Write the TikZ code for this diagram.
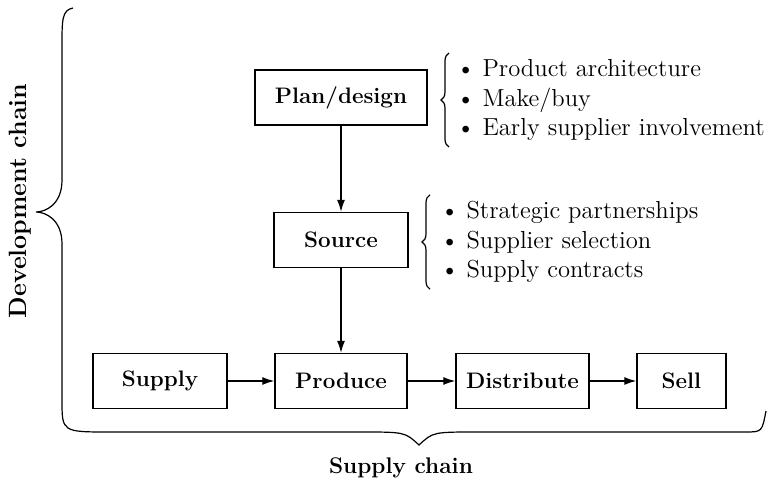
\documentclass[tikz,border=0pt]{standalone}
\usepackage{tikz}
\usetikzlibrary{arrows.meta,positioning,decorations.pathreplacing,calc}
\tikzset{
stagebox/.style = {draw, line width=0.7pt, minimum height=27.5pt,
                   inner sep=0pt, font=\fontsize{11.2}{13}\selectfont\bfseries},
flow/.style = {-{Latex[length=6pt,width=4pt]}, line width=0.6pt},
bulletlist/.style = {align=left, inner sep=0pt, anchor=west,
                     font=\fontsize{12.3}{14.8}\selectfont},
listbrace/.style = {decorate, decoration={brace, amplitude=4pt}, line width=0.6pt}}
\newcommand{\itm}{\textbullet\hspace{0.3em}}

\begin{document}
\begin{tikzpicture}[x=0.5pt,y=-0.5pt]
  \useasboundingbox (0,0) rectangle (768,487);

  % development stages
  \node[stagebox, minimum width=86pt] (plan) at (341,97.5) {Plan/design};
  \node[stagebox, minimum width=67pt] (source) at (341,240) {Source};

  % supply chain stages
  \node[stagebox, minimum width=67pt] (supply) at (160,381) {Supply};
  \node[stagebox, minimum width=66pt] (produce) at (341,381) {Produce};
  \node[stagebox, minimum width=66.5pt] (distribute) at (522.5,381) {Distribute};
  \node[stagebox, minimum width=44.5pt] (sell) at (681.5,381) {Sell};

  \draw[flow] (plan) -- (source);
  \draw[flow] (source) -- (produce);
  \draw[flow] (supply) -- (produce);
  \draw[flow] (produce) -- (distribute);
  \draw[flow] (distribute) -- (sell);

  % decisions
  \node[bulletlist] (planlist) at (456,100) {\itm Product architecture\\
    \itm Make/buy\\ \itm Early supplier involvement};
  \node[bulletlist] (sourcelist) at (440,242) {\itm Strategic partnerships\\
    \itm Supplier selection\\ \itm Supply contracts};
  \draw[listbrace] ($(planlist.south west)+(-7,6)$) -- ($(planlist.north west)+(-7,-6)$);
  \draw[listbrace] ($(sourcelist.south west)+(-10,6)$) -- ($(sourcelist.north west)+(-10,-6)$);

  % chain braces
  \draw[line width=0.6pt] (73,8) .. controls (62,10) and (62,20) .. (62,45)
    -- (62,180) .. controls (62,205) and (45,212) .. (36,212)
    .. controls (45,212) and (62,219) .. (62,244)
    -- (62,400) .. controls (62,432) .. (110,432)
    -- (360,432) .. controls (405,432) .. (419,445)
    .. controls (433,432) .. (478,432)
    -- (745,432) .. controls (762,432) .. (766,411);

  \node[rotate=90, font=\fontsize{12.5}{14}\selectfont\bfseries] (devlabel) at (20,201) {Development chain};
  \node[font=\fontsize{11.3}{14}\selectfont\bfseries] (supplylabel) at (401,468) {Supply chain};
\end{tikzpicture}
\end{document}
